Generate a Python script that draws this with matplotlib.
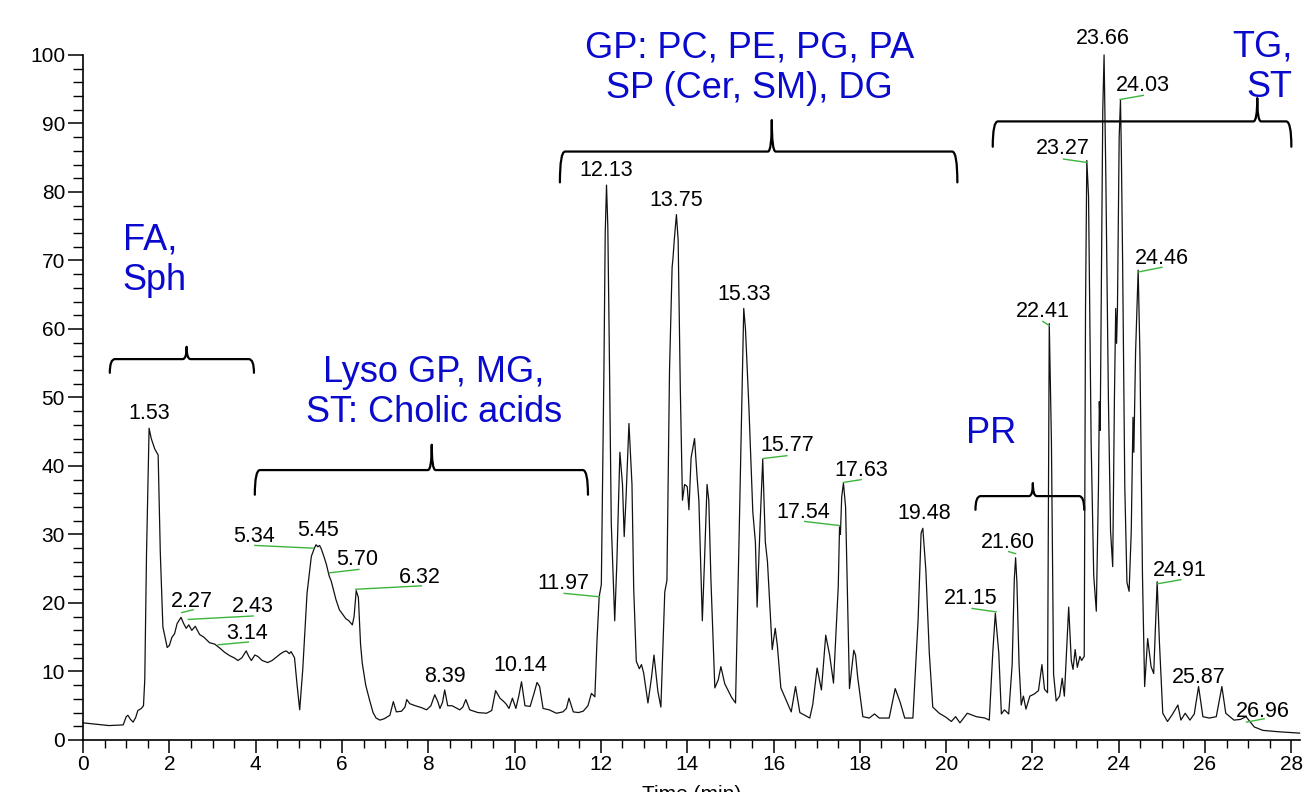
import matplotlib
matplotlib.use("Agg")
import matplotlib.pyplot as plt
from matplotlib.path import Path
import matplotlib.patches as patches
import numpy as np

plt.rcParams['font.family'] = ['Liberation Sans', 'DejaVu Sans']

# chromatogram trace (time in min, relative abundance)
time_min = [
    0.00, 0.30, 0.60, 0.93, 1.00, 1.04, 1.10, 1.16, 1.22, 1.27, 1.35, 1.40, 1.43, 1.47, 1.53,
    1.58, 1.66, 1.74, 1.79, 1.85, 1.95, 2.00, 2.06, 2.12, 2.18, 2.27, 2.33, 2.39, 2.45, 2.52,
    2.60, 2.70, 2.80, 2.93, 3.05, 3.17, 3.28, 3.40, 3.50, 3.59, 3.68, 3.78, 3.84, 3.90, 3.98,
    4.05, 4.15, 4.28, 4.38, 4.48, 4.58, 4.66, 4.71, 4.78, 4.82, 4.90, 4.96, 5.02, 5.09, 5.19,
    5.29, 5.36, 5.40, 5.44, 5.48, 5.52, 5.58, 5.64, 5.70, 5.75, 5.80, 5.86, 5.94, 6.02, 6.09,
    6.16, 6.24, 6.28, 6.33, 6.38, 6.43, 6.47, 6.55, 6.64, 6.72, 6.79, 6.88, 6.98, 7.06, 7.11,
    7.19, 7.26, 7.38, 7.46, 7.50, 7.57, 7.70, 7.85, 7.96, 8.06, 8.15, 8.22, 8.27, 8.33, 8.38,
    8.45, 8.55, 8.73, 8.80, 8.87, 8.96, 9.15, 9.35, 9.47, 9.56, 9.66, 9.75, 9.81, 9.87, 9.95,
    10.03, 10.10, 10.16, 10.24, 10.36, 10.45, 10.52, 10.58, 10.66, 10.80, 10.97, 11.12, 11.20,
    11.26, 11.36, 11.48, 11.59, 11.70, 11.78, 11.86, 11.91, 11.96, 12.01, 12.07, 12.10, 12.13,
    12.16, 12.19, 12.24, 12.32, 12.37, 12.44, 12.50, 12.54, 12.58, 12.65, 12.72, 12.76, 12.82,
    12.89, 12.94, 12.99, 13.09, 13.17, 13.23, 13.32, 13.39, 13.48, 13.53, 13.59, 13.65, 13.67,
    13.70, 13.75, 13.79, 13.84, 13.89, 13.94, 14.00, 14.04, 14.09, 14.17, 14.23, 14.27, 14.35,
    14.40, 14.46, 14.50, 14.55, 14.64, 14.72, 14.78, 14.87, 15.03, 15.12, 15.20, 15.28, 15.31,
    15.35, 15.43, 15.52, 15.58, 15.62, 15.69, 15.75, 15.81, 15.86, 15.97, 16.04, 16.09, 16.17,
    16.26, 16.41, 16.51, 16.61, 16.84, 16.91, 17.01, 17.11, 17.21, 17.30, 17.39, 17.50, 17.53,
    17.55, 17.58, 17.62, 17.67, 17.76, 17.86, 17.90, 17.95, 18.07, 18.22, 18.34, 18.45, 18.68,
    18.82, 18.94, 19.04, 19.23, 19.35, 19.42, 19.46, 19.53, 19.61, 19.69, 19.84, 20.00, 20.12,
    20.22, 20.32, 20.49, 20.70, 20.90, 21.00, 21.08, 21.14, 21.22, 21.28, 21.35, 21.45, 21.53,
    21.58, 21.61, 21.64, 21.69, 21.74, 21.79, 21.85, 21.94, 22.04, 22.14, 22.22, 22.28, 22.35,
    22.39, 22.44, 22.49, 22.55, 22.63, 22.69, 22.74, 22.84, 22.90, 22.94, 22.99, 23.04, 23.10,
    23.14, 23.20, 23.23, 23.26, 23.30, 23.36, 23.42, 23.48, 23.53, 23.55, 23.57, 23.60, 23.63,
    23.66, 23.70, 23.76, 23.81, 23.86, 23.90, 23.93, 23.95, 23.97, 24.01, 24.04, 24.06, 24.09,
    24.14, 24.19, 24.24, 24.29, 24.33, 24.35, 24.39, 24.45, 24.49, 24.55, 24.60, 24.67, 24.75,
    24.81, 24.89, 24.94, 25.02, 25.13, 25.24, 25.37, 25.44, 25.54, 25.65, 25.75, 25.85, 25.95,
    26.10, 26.26, 26.39, 26.48, 26.67, 26.82, 26.95, 27.14, 27.34, 27.70, 28.19,
]
abundance = [
    2.5, 2.3, 2.1, 2.2, 3.4, 3.6, 3.0, 2.6, 3.3, 4.3, 4.6, 5.0, 8.8, 27.0, 45.5,
    44.0, 42.5, 41.6, 27.3, 16.5, 13.5, 13.8, 15.0, 15.5, 17.0, 17.9, 17.0, 16.3, 16.8, 16.0,
    16.6, 15.4, 15.0, 14.2, 14.0, 13.4, 12.8, 12.3, 12.0, 11.6, 12.0, 13.0, 12.2, 11.6, 12.4,
    12.2, 11.6, 11.3, 11.6, 12.1, 12.6, 12.9, 13.0, 12.6, 12.9, 12.0, 8.0, 4.4, 10.2, 21.4,
    26.8, 28.0, 28.5, 28.2, 28.4, 27.9, 26.8, 25.6, 24.0, 23.2, 22.0, 20.5, 19.0, 18.3, 17.7,
    17.4, 16.8, 18.0, 21.8, 20.8, 14.0, 11.2, 8.0, 5.8, 4.0, 3.2, 2.9, 3.1, 3.4, 3.6,
    5.6, 4.1, 4.2, 4.8, 5.9, 5.3, 5.0, 4.7, 4.4, 5.0, 6.6, 5.6, 4.6, 5.5, 7.3,
    5.0, 5.0, 4.4, 4.8, 5.9, 4.4, 4.0, 3.9, 4.3, 7.2, 6.1, 5.6, 5.2, 4.6, 6.1,
    4.6, 6.5, 8.5, 5.0, 4.9, 6.8, 8.4, 7.8, 4.6, 4.4, 3.9, 4.1, 4.6,
    6.1, 4.1, 4.0, 4.2, 5.0, 6.8, 6.3, 14.6, 20.9, 22.7, 54.0, 74.0, 81.0,
    75.0, 59.6, 31.7, 17.4, 26.0, 42.0, 37.3, 29.7, 35.0, 46.2, 37.3, 22.1, 11.5,
    10.4, 11.0, 9.8, 5.4, 9.0, 12.4, 7.1, 4.8, 21.6, 23.3, 54.0, 69.0, 70.3,
    73.0, 76.7, 73.0, 51.2, 35.0, 37.3, 37.0, 33.6, 41.2, 44.0, 38.3, 35.0, 17.4,
    26.0, 37.3, 35.0, 23.3, 7.6, 8.8, 10.7, 8.2, 6.2, 5.4, 28.9, 54.0, 63.0,
    60.0, 48.5, 33.3, 28.9, 19.4, 31.7, 41.0, 28.9, 26.0, 13.2, 16.3, 13.7, 7.6,
    6.3, 4.1, 7.8, 4.0, 3.2, 5.2, 10.5, 7.3, 15.3, 12.4, 8.3, 22.4, 31.1,
    30.0, 35.5, 37.5, 34.0, 7.5, 13.1, 12.4, 9.2, 3.4, 3.2, 3.8, 3.2, 3.2,
    7.5, 5.4, 3.2, 3.2, 17.5, 30.2, 30.9, 24.8, 12.7, 4.8, 3.9, 3.3, 2.7,
    3.4, 2.5, 3.9, 3.4, 3.2, 2.9, 12.7, 18.5, 12.7, 3.8, 4.4, 3.8, 11.0,
    23.5, 26.6, 23.0, 11.0, 5.1, 6.4, 4.5, 6.4, 6.7, 7.2, 11.0, 7.4, 6.9,
    60.8, 43.5, 9.6, 5.7, 6.4, 9.0, 6.4, 19.4, 11.6, 10.3, 13.2, 10.6, 12.2,
    11.6, 12.2, 63.0, 84.6, 79.4, 43.5, 24.0, 18.8, 37.0, 49.4, 45.2, 69.6, 92.0,
    100.0, 82.6, 50.0, 30.5, 25.3, 50.0, 63.0, 57.9, 63.0, 88.0, 93.4, 86.0, 69.6,
    37.0, 23.0, 21.7, 30.5, 47.1, 42.0, 56.6, 68.6, 56.6, 24.0, 7.8, 14.8, 10.7,
    9.7, 23.1, 14.6, 3.9, 2.7, 3.7, 5.1, 2.9, 3.9, 2.9, 3.8, 7.8, 3.4,
    3.2, 3.4, 7.8, 3.9, 2.9, 3.0, 3.4, 1.9, 1.4, 1.2, 1.0,
]

# peak labels: text, text position, leader line (peak end -> label end) or None
peak_labels = ["1.53", "2.27", "2.43", "3.14", "5.34", "5.45", "5.70", "6.32", "8.39",
               "10.14", "11.97", "12.13", "13.75", "15.33", "15.77", "17.54", "17.63",
               "19.48", "21.15", "21.60", "22.41", "23.27", "23.66", "24.03", "24.46",
               "24.91", "25.87", "26.96"]
label_x = [1.54, 2.53, 3.93, 3.81, 3.97, 5.44, 6.36, 7.80, 8.38,
           10.14, 11.14, 12.13, 13.75, 15.33, 16.32, 16.70, 18.03,
           19.48, 20.58, 21.44, 22.23, 22.70, 23.64, 24.57, 24.99,
           25.42, 25.85, 27.35]
label_y = [47.6, 20.2, 19.5, 15.6, 29.7, 30.6, 26.3, 23.7, 9.3,
           10.8, 22.8, 83.2, 78.7, 65.0, 43.0, 33.2, 39.3,
           33.0, 20.6, 28.8, 62.6, 86.3, 102.4, 95.6, 70.3,
           24.7, 9.1, 4.2]
leaders = [None, (2.29, 18.6, 2.55, 19.0), (2.44, 17.6, 3.94, 18.1), (3.13, 13.9, 3.83, 14.3),
           (3.98, 28.4, 5.33, 28.0), None, (5.71, 24.4, 6.39, 24.9), (6.32, 22.0, 7.84, 22.5),
           None, None, (11.15, 21.4, 11.97, 20.9), None, None, None,
           (15.77, 41.1, 16.31, 41.5), (16.72, 31.9, 17.53, 31.3), (17.62, 37.6, 18.03, 38.0),
           None, (20.60, 19.2, 21.16, 18.7), (21.45, 27.5, 21.61, 27.2),
           (22.24, 61.1, 22.39, 60.5), (22.72, 84.8, 23.27, 84.3), None,
           (24.03, 93.5, 24.57, 94.1), (24.44, 68.3, 25.00, 69.0), (24.90, 22.8, 25.44, 23.4),
           None, (26.96, 2.6, 27.37, 3.1)]

# lipid class groups
group_names = ["FA,\nSph", "Lyso GP, MG,\nST: Cholic acids",
               "GP: PC, PE, PG, PA\nSP (Cer, SM), DG", "PR", "TG,\nST"]
group_text_x = [0.92, 8.13, 15.45, 21.05, 28.02]
group_text_y = [70.0, 50.7, 98.1, 44.8, 98.2]
group_align = ["left", "center", "center", "center", "right"]
brace_start = [0.62, 3.98, 11.05, 20.68, 21.08]
brace_end = [3.96, 11.70, 20.26, 23.20, 28.00]
brace_tip = [2.40, 8.08, 15.96, 22.01, 27.21]
brace_level = [55.6, 39.4, 85.9, 35.6, 90.3]
brace_drop = [2.0, 3.6, 4.5, 2.0, 3.7]
brace_rise = [1.8, 3.7, 4.6, 1.9, 3.4]

BLUE = '#0a0acc'
GREEN = '#3cb43c'


def draw_brace(ax, x0, x1, xm, yh, drop, rise, r=0.12, cusp=0.09):
    verts = [(x0, yh - drop), (x0, yh), (x0 + r, yh),
             (xm - cusp, yh), (xm, yh), (xm, yh + rise),
             (xm, yh), (xm + cusp, yh),
             (x1 - r, yh), (x1, yh), (x1, yh - drop)]
    codes = [Path.MOVETO, Path.CURVE3, Path.CURVE3,
             Path.LINETO, Path.CURVE3, Path.CURVE3,
             Path.CURVE3, Path.CURVE3,
             Path.LINETO, Path.CURVE3, Path.CURVE3]
    ax.add_patch(patches.PathPatch(Path(verts, codes), facecolor='none',
                                   edgecolor='black', lw=1.6, clip_on=False,
                                   capstyle='round', joinstyle='round'))


fig = plt.figure(figsize=(13.06, 7.92), dpi=100)
ax = fig.add_axes([0.0636, 0.0657, 0.9318, 0.8649])

ax.plot(time_min, abundance, color='#111111', lw=0.9, clip_on=False)

for txt, tx, ty, ld in zip(peak_labels, label_x, label_y, leaders):
    if ld is not None:
        ax.plot([ld[0], ld[2]], [ld[1], ld[3]], color=GREEN, lw=1.0, clip_on=False)
    ax.text(tx, ty, txt, ha='center', va='center', fontsize=15.5, color='black',
            clip_on=False)

for i, name in enumerate(group_names):
    ax.text(group_text_x[i], group_text_y[i], name, ha=group_align[i], va='center',
            multialignment=group_align[i], fontsize=26, color=BLUE, clip_on=False)
    draw_brace(ax, brace_start[i], brace_end[i], brace_tip[i], brace_level[i],
               brace_drop[i], brace_rise[i])

ax.set_xlim(0, 28.2)
ax.set_ylim(0, 100)
ax.set_xticks(np.arange(0, 29, 2))
ax.set_xticks(np.arange(0, 28.3, 0.5), minor=True)
ax.set_yticks(np.arange(0, 101, 10))
ax.set_yticks(np.arange(0, 101, 2), minor=True)
ax.tick_params(which='major', length=9, width=1.1, labelsize=15, pad=2)
ax.tick_params(which='minor', length=6, width=1.0)
ax.tick_params(axis='y', which='major', length=11)
ax.tick_params(axis='y', which='minor', length=7)

for side in ['top', 'right']:
    ax.spines[side].set_visible(False)
for side in ['left', 'bottom']:
    ax.spines[side].set_linewidth(1.2)

# the reference crops this label at the bottom edge
ax.set_xlabel('Time (min)', fontsize=15, labelpad=8)

fig.savefig('out.png', dpi=100)
